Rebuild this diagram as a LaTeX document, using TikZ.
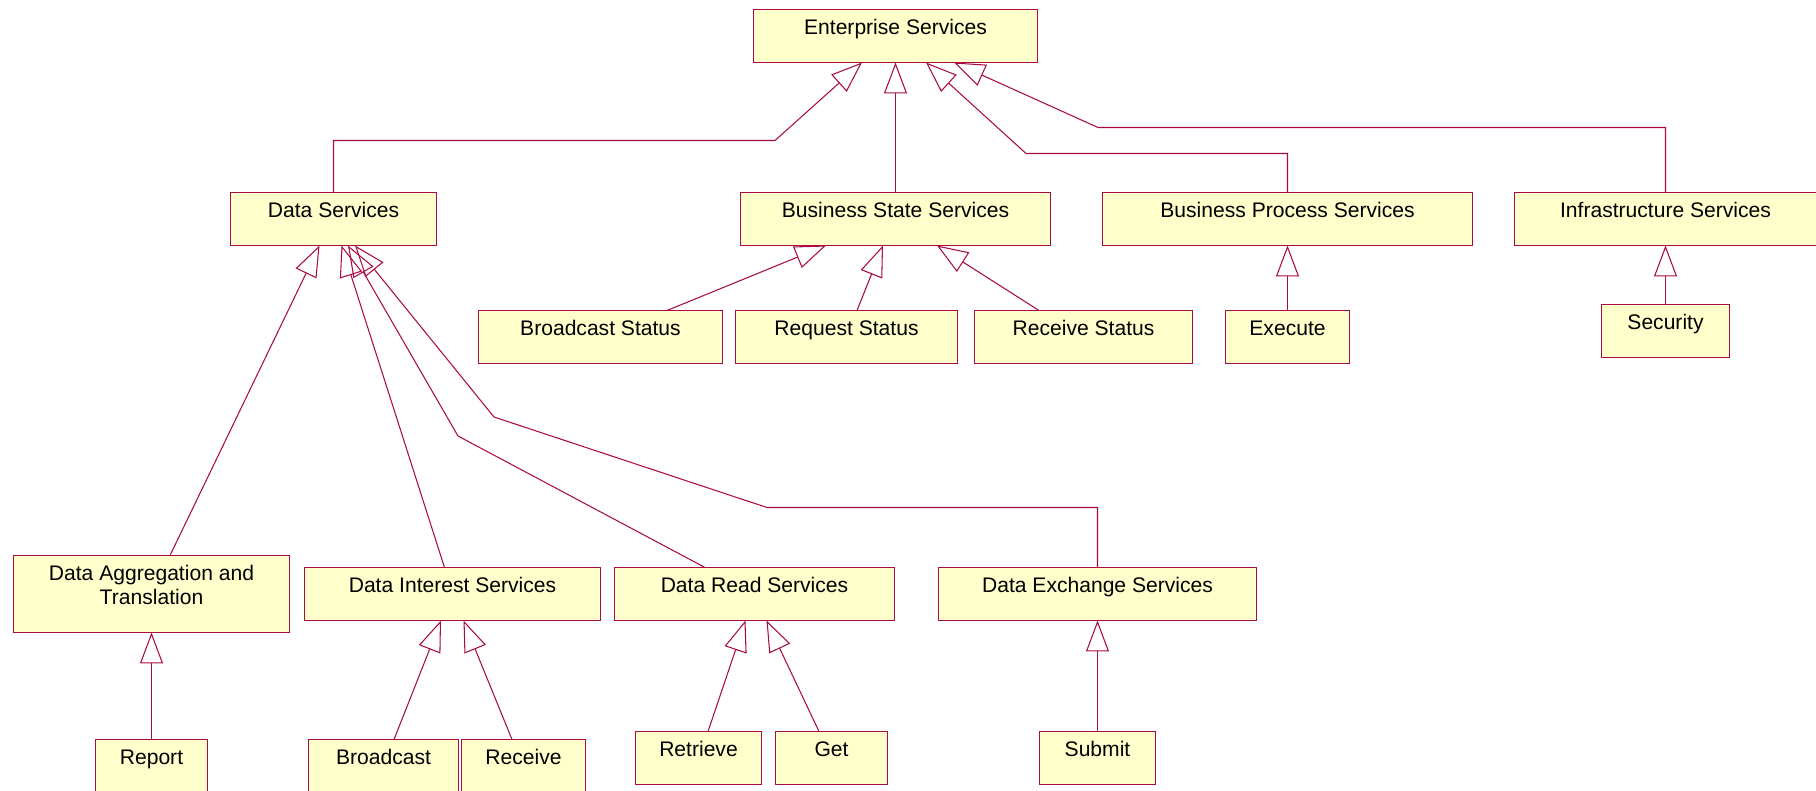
\documentclass[tikz,border=0pt]{standalone}
\usepackage{fontspec}
\setmainfont{Liberation Sans}
\usetikzlibrary{arrows.meta,calc}
\definecolor{roseline}{RGB}{170,10,70}
\definecolor{rosefill}{RGB}{255,255,204}
\tikzset{
  umlbox/.style={draw=roseline, fill=rosefill, line width=0.6pt, anchor=north, align=center,
    inner xsep=0pt, inner ysep=0pt, outer sep=0pt, text height=0.5cm, text depth=0.56cm,
    font=\fontsize{12}{13.6}\selectfont},
  generalization/.style={draw=roseline, line width=0.6pt, -{Triangle[open, length=0.62cm, width=0.46cm]}}
}

\begin{document}
\begin{tikzpicture}[x=0.02cm, y=-0.02cm]
\useasboundingbox (0,0) rectangle (1816,791);
\node[umlbox, minimum width=5.68cm] (EnterpriseServices) at (895.5,9.5) {Enterprise Services};
\node[umlbox, minimum width=4.12cm] (DataServices) at (333.5,192.5) {Data Services};
\node[umlbox, minimum width=6.2cm] (BusinessStateServices) at (895.5,192.5) {Business State Services};
\node[umlbox, minimum width=7.4cm] (BusinessProcessServices) at (1287.5,192.5) {Business Process Services};
\node[umlbox, minimum width=6.04cm] (InfrastructureServices) at (1665.5,192.5) {Infrastructure Services};
\node[umlbox, minimum width=4.88cm] (BroadcastStatus) at (600.5,310.5) {Broadcast Status};
\node[umlbox, minimum width=4.44cm] (RequestStatus) at (846.5,310.5) {Request Status};
\node[umlbox, minimum width=4.36cm] (ReceiveStatus) at (1083.5,310.5) {Receive Status};
\node[umlbox, minimum width=2.48cm] (Execute) at (1287.5,310.5) {Execute};
\node[umlbox, minimum width=2.56cm] (Security) at (1665.5,304.5) {Security};
\node[umlbox, minimum width=5.52cm, text height=0.98cm] (DataAggregation) at (151.5,555.5) {Data Aggregation and\\Translation};
\node[umlbox, minimum width=5.92cm] (DataInterestServices) at (452.5,567.5) {Data Interest Services};
\node[umlbox, minimum width=5.6cm] (DataReadServices) at (754.5,567.5) {Data Read Services};
\node[umlbox, minimum width=6.36cm] (DataExchangeServices) at (1097.5,567.5) {Data Exchange Services};
\node[umlbox, minimum width=2.24cm] (Report) at (151.5,739.5) {Report};
\node[umlbox, minimum width=3cm] (Broadcast) at (383.5,739.5) {Broadcast};
\node[umlbox, minimum width=2.48cm] (Receive) at (523.5,739.5) {Receive};
\node[umlbox, minimum width=2.52cm] (Retrieve) at (698.5,731.5) {Retrieve};
\node[umlbox, minimum width=2.24cm] (Get) at (831.5,731.5) {Get};
\node[umlbox, minimum width=2.32cm] (Submit) at (1097.5,731.5) {Submit};
\draw[generalization] (DataServices.north) |- (775,140.5) -- ($(EnterpriseServices.south)+(-33.5,0)$);
\draw[generalization] (BusinessStateServices.north) -- (EnterpriseServices.south);
\draw[generalization] (BusinessProcessServices.north) |- (1026,153.5) -- ($(EnterpriseServices.south)+(30.5,0)$);
\draw[generalization] (InfrastructureServices.north) |- (1098,127.5) -- ($(EnterpriseServices.south)+(58.5,0)$);
\draw[generalization] ($(BroadcastStatus.north)+(66.5,0)$) -- ($(BusinessStateServices.south)+(-69.5,0)$);
\draw[generalization] ($(RequestStatus.north)+(10.5,0)$) -- ($(BusinessStateServices.south)+(-12.5,0)$);
\draw[generalization] ($(ReceiveStatus.north)+(-44.5,0)$) -- ($(BusinessStateServices.south)+(41.5,0)$);
\draw[generalization] (Execute.north) -- (BusinessProcessServices.south);
\draw[generalization] (Security.north) -- (InfrastructureServices.south);
\draw[generalization] ($(DataAggregation.north)+(18.5,0)$) -- ($(DataServices.south)+(-14,0)$);
\draw[generalization] ($(DataInterestServices.north)+(-8,0)$) -- ($(DataServices.south)+(8,0)$);
\draw[generalization] ($(DataReadServices.north)+(-49.5,0)$) -- (458,436) -- ($(DataServices.south)+(14.5,0)$);
\draw[generalization] (DataExchangeServices.north) |- (767,507.5) -- (494,417) -- ($(DataServices.south)+(21.5,0)$);
\draw[generalization] (Report.north) -- (DataAggregation.south);
\draw[generalization] ($(Broadcast.north)+(10.5,0)$) -- ($(DataInterestServices.south)+(-11.5,0)$);
\draw[generalization] ($(Receive.north)+(-11.5,0)$) -- ($(DataInterestServices.south)+(11,0)$);
\draw[generalization] ($(Retrieve.north)+(9.5,0)$) -- ($(DataReadServices.south)+(-9,0)$);
\draw[generalization] ($(Get.north)+(-12.5,0)$) -- ($(DataReadServices.south)+(12,0)$);
\draw[generalization] (Submit.north) -- (DataExchangeServices.south);
\end{tikzpicture}
\end{document}
